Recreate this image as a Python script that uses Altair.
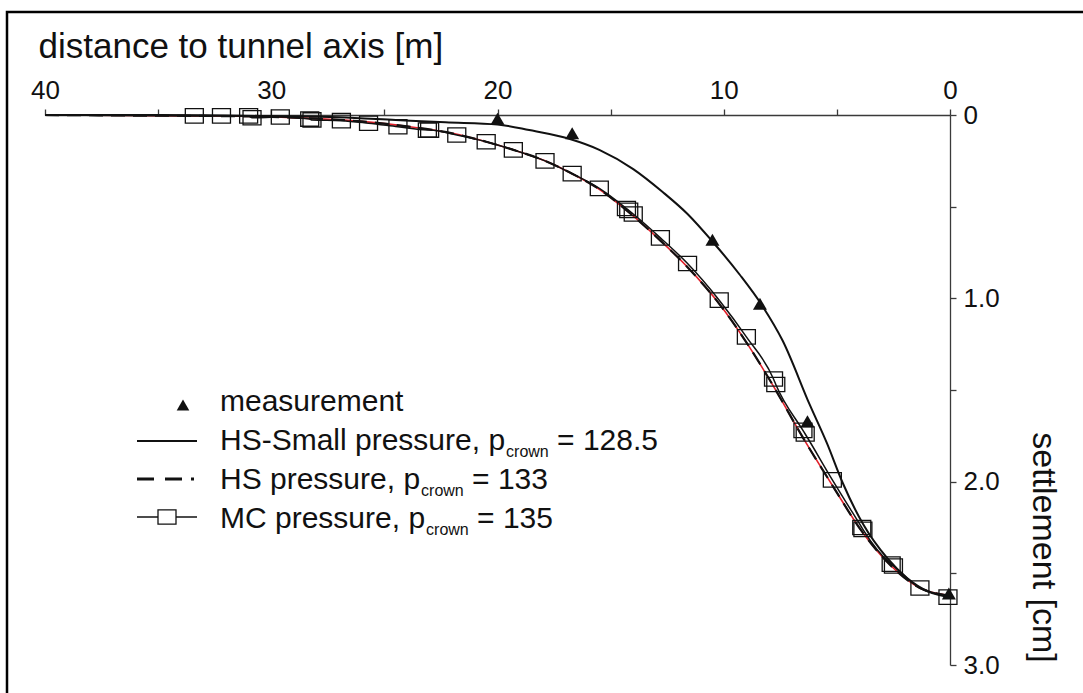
import altair as alt
import pandas as pd

# ---------------- data ----------------
# measurement (triangles)
meas_x = [20.0, 16.7, 10.5, 8.4, 6.3, 0.05]
meas_v = [0.02, 0.10, 0.68, 1.03, 1.67, 2.61]

# HS-Small pressure, p_crown = 128.5 (solid, upper curve)
hss_x = [40, 35, 30, 27, 24.5, 22.3, 20.0, 18.6, 16.8, 15.5, 14.0, 12.7, 11.6,
         10.5, 9.3, 8.3, 7.4, 6.2, 5.44, 4.73, 3.85, 2.79, 1.9, 1.0, 0.0]
hss_v = [0.0, 0.0, 0.006, 0.012, 0.027, 0.040, 0.052, 0.082, 0.131, 0.19, 0.295,
         0.42, 0.54, 0.69, 0.87, 1.04, 1.23, 1.58, 1.79, 2.01, 2.23, 2.415, 2.525,
         2.596, 2.623]

# HS pressure, p_crown = 133 (dashed)
hs_x = [40, 36, 33, 30, 28, 26, 24, 22, 20.5, 19.3, 17.9, 16.7, 15.5, 14.2, 12.8,
        11.6, 10.2, 9.0, 7.8, 6.5, 5.2, 3.9, 2.6, 1.33, 0.1]
hs_v = [0.0, 0.003, 0.005, 0.01, 0.02, 0.035, 0.062, 0.10, 0.146, 0.19, 0.25, 0.32,
        0.405, 0.53, 0.685, 0.83, 1.03, 1.24, 1.48, 1.76, 2.02, 2.27, 2.46, 2.58, 2.62]

# MC pressure, p_crown = 135 (line with open squares)
mc_x = [40, 33.4, 32.2, 31.0, 30.85, 29.6, 28.3, 28.2, 26.9, 25.7, 24.4, 23.1, 23.0,
        21.8, 20.5, 19.3, 17.9, 16.7, 15.5, 14.3, 14.2, 14.0, 12.8, 11.6, 10.2, 9.0,
        7.8, 7.7, 6.5, 6.4, 5.2, 3.9, 3.85, 2.6, 2.5, 1.33, 0.09]
mc_v = [0.0, 0.005, 0.005, 0.005, 0.015, 0.011, 0.022, 0.027, 0.031, 0.045, 0.064,
        0.082, 0.082, 0.109, 0.146, 0.19, 0.25, 0.32, 0.40, 0.51, 0.52, 0.54, 0.67,
        0.81, 1.01, 1.21, 1.44, 1.47, 1.72, 1.74, 1.99, 2.25, 2.26, 2.45, 2.46, 2.58,
        2.63]

# faint red reference line underneath
red_x = hs_x
red_v = hs_v

x_ticks = [0, 5, 10, 15, 20, 25, 30, 35, 40]
y_ticks = [0, 0.5, 1.0, 1.5, 2.0, 2.5, 3.0]

legend_labels = ["measurement", "HS-Small pressure, p", "HS pressure, p", "MC pressure, p"]
legend_values = ["", "= 128.5", "= 133", "= 135"]

# ---------------- layout ----------------
W, H = 905, 550
LEFT, TOP = 45, 115
FONT = "Liberation Sans"
INK = "#111111"
AX = "#3a3a3a"

TRI = "M0,-0.86L1,0.86L-1,0.86Z"
BOX = "M-1,-0.8H1V0.8H-1Z"

xs = alt.Scale(domain=[0, 40], reverse=True, nice=False, zero=False)
ys = alt.Scale(domain=[0, 3], reverse=True, nice=False)

x_axis = alt.Axis(
    orient="top", values=x_ticks, grid=False, labelFlush=False,
    labelExpr="datum.value % 10 == 0 ? datum.label : ''",
    labelFontSize=26, labelFont=FONT, labelColor=INK, labelPadding=6,
    tickSize=6, tickColor=AX, domainColor=AX, domainWidth=1.3, tickWidth=1.3,
    title="distance to tunnel axis [m]", titleFont=FONT, titleFontSize=35,
    titleFontWeight="normal", titleColor=INK, titleAnchor="start", titleAlign="left",
    titleBaseline="alphabetic", titleX=-7, titleY=-58, labelOverlap=False,
)
y_axis = alt.Axis(
    orient="right", values=y_ticks, grid=False,
    labelExpr="datum.value == 0 ? '0' : (datum.value % 1 == 0 ? format(datum.value, '.1f') : '')",
    labelFontSize=26, labelFont=FONT, labelColor=INK, labelPadding=7,
    tickSize=6, tickColor=AX, domainColor=AX, domainWidth=1.3, tickWidth=1.3,
    title="settlement [cm]", titleFont=FONT, titleFontSize=34,
    titleFontWeight="normal", titleColor=INK, titleAngle=90, titleAlign="center",
    titleBaseline="alphabetic", titleX=82, titleY=432, labelOverlap=False,
)

def enc(chart):
    return chart.encode(
        x=alt.X("x:Q", scale=xs, axis=x_axis),
        y=alt.Y("v:Q", scale=ys, axis=y_axis),
    )

def df(xv, vv):
    return pd.DataFrame({"x": xv, "v": vv})

red = enc(alt.Chart(df(red_x, red_v)).mark_line(color="#e0202a", strokeWidth=1.6, interpolate="monotone"))
mc_line = enc(alt.Chart(df(mc_x, mc_v)).mark_line(color=INK, strokeWidth=1.5, interpolate="monotone"))
hs_line = enc(alt.Chart(df(hs_x, hs_v)).mark_line(color=INK, strokeWidth=2.2, strokeDash=[14, 8],
                                                   interpolate="monotone"))
hss_line = enc(alt.Chart(df(hss_x, hss_v)).mark_line(color=INK, strokeWidth=2.0, interpolate="monotone"))
mc_pts = enc(alt.Chart(df(mc_x, mc_v)).transform_filter("datum.x < 39").mark_point(
    shape=BOX, size=324, filled=False, stroke=INK, strokeWidth=1.3, opacity=1))
meas_pts = enc(alt.Chart(df(meas_x, meas_v)).mark_point(
    shape=TRI, size=196, filled=True, color=INK, opacity=1))

one = pd.DataFrame({"k": [0]})

# outer frame
frame = alt.Chart(one).mark_rect(filled=False, stroke="black", strokeWidth=2.5).encode(
    x=alt.value(7 - LEFT), x2=alt.value(W + 300), y=alt.value(12 - TOP), y2=alt.value(H + 300))

# ---------------- hand-built legend ----------------
CW = {' ': 278, ',': 278, '-': 333, '.': 278, '=': 584, 'H': 722, 'S': 667, 'M': 833,
      'C': 722, 'a': 556, 'c': 500, 'e': 556, 'l': 222, 'm': 833, 'n': 556, 'o': 556,
      'p': 556, 'r': 333, 's': 500, 't': 278, 'u': 556, 'w': 722}

def tw(s, fs):
    return sum(CW.get(c, 556) for c in s) * fs / 1000.0

LFS, SFS = 30, 16
tx0 = 220 - LEFT
base = [411 - TOP, 450 - TOP, 489 - TOP, 528 - TOP]
sym_y = [405 - TOP, 441 - TOP, 479 - TOP, 517 - TOP]
lx1, lx2 = 137 - LEFT, 197 - LEFT

leg = []
leg.append(alt.Chart(one).mark_point(shape=TRI, size=160, filled=True, color=INK, opacity=1).encode(
    x=alt.value(183 - LEFT), y=alt.value(sym_y[0])))
leg.append(alt.Chart(one).mark_rule(color=INK, strokeWidth=2.0).encode(
    x=alt.value(lx1), x2=alt.value(lx2), y=alt.value(sym_y[1])))
leg.append(alt.Chart(one).mark_rule(color=INK, strokeWidth=3.0, strokeDash=[17, 11, 17, 9, 3, 40]).encode(
    x=alt.value(lx1), x2=alt.value(lx2), y=alt.value(sym_y[2])))
leg.append(alt.Chart(one).mark_rule(color=INK, strokeWidth=1.6).encode(
    x=alt.value(lx1), x2=alt.value(lx2), y=alt.value(sym_y[3])))
leg.append(alt.Chart(one).mark_point(shape=BOX, size=324, filled=True, fill="white", stroke=INK,
                                     strokeWidth=1.3, opacity=1).encode(
    x=alt.value((lx1 + lx2) / 2), y=alt.value(sym_y[3])))

for i, lab in enumerate(legend_labels):
    leg.append(alt.Chart(one).mark_text(font=FONT, fontSize=LFS, align="left", baseline="alphabetic",
                                        color=INK).encode(
        x=alt.value(tx0), y=alt.value(base[i]), text=alt.value(lab)))
    if i > 0:
        sx = tx0 + tw(lab, LFS) + 1
        leg.append(alt.Chart(one).mark_text(font=FONT, fontSize=SFS, align="left", baseline="alphabetic",
                                            color=INK).encode(
            x=alt.value(sx), y=alt.value(base[i] + 7), text=alt.value("crown")))
        ex = sx + tw("crown", SFS) + tw(" ", LFS)
        leg.append(alt.Chart(one).mark_text(font=FONT, fontSize=LFS, align="left", baseline="alphabetic",
                                            color=INK).encode(
            x=alt.value(ex), y=alt.value(base[i]), text=alt.value(legend_values[i])))

chart = alt.layer(
    frame, red, mc_line, hs_line, hss_line, mc_pts, meas_pts, *leg
).properties(
    width=W, height=H,
    autosize=alt.AutoSizeParams(type="none"),
    padding={"left": LEFT, "top": TOP, "right": 1083 - LEFT - W, "bottom": 693 - TOP - H},
    background="white",
).configure_view(stroke=None)

chart.save("out.html", embed_options={"renderer": "svg", "actions": False})
